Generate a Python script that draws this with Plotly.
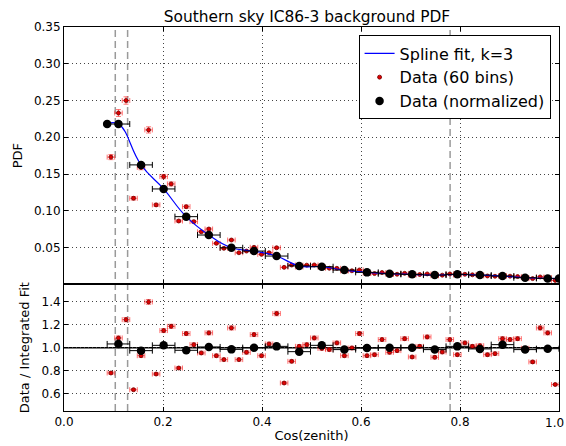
import numpy as np
import plotly.graph_objects as go

# ---- data ----
cos_lo, cos_hi, n_bins, group = 0.0872, 1.0, 60, 3

red_pdf = [0.173, 0.233, 0.250, 0.117, 0.159, 0.210, 0.108, 0.1465, 0.1365, 0.0861,
           0.1056, 0.0852, 0.0715, 0.0752, 0.0557, 0.0489, 0.0602, 0.0429, 0.0452, 0.0503,
           0.0407, 0.0429, 0.0497, 0.0230, 0.0262, 0.0235, 0.0260, 0.0263, 0.0232, 0.0218,
           0.0217, 0.0182, 0.0184, 0.0195, 0.0151, 0.0146, 0.0160, 0.0137, 0.0136, 0.0149,
           0.0124, 0.0133, 0.0141, 0.0116, 0.0124, 0.0141, 0.0126, 0.0136, 0.0129, 0.0128,
           0.0113, 0.0109, 0.0118, 0.0110, 0.0105, 0.0091, 0.0077, 0.0100, 0.0091, 0.0053]

red_ratio = [0.78, 1.084, 1.243, 0.635, 0.93, 1.397, 0.771, 1.148, 1.185, 0.823,
             1.122, 1.026, 0.954, 1.128, 0.93, 0.896, 1.171, 0.896, 0.959, 1.113,
             0.93, 1.032, 1.296, 0.693, 0.881, 1.011, 1.026, 1.084, 0.993, 0.983,
             1.041, 0.93, 0.997, 1.122, 0.93, 0.939, 1.07, 0.959, 0.974, 1.078,
             0.919, 1.011, 1.093, 0.916, 0.962, 1.07, 0.939, 1.041, 1.011, 1.017,
             0.939, 0.948, 1.078, 1.07, 1.078, 0.995, 0.876, 1.171, 1.128, 0.68]

norm_pdf = [0.218, 0.1624, 0.1297, 0.092, 0.067, 0.0497, 0.0452, 0.0384, 0.0250, 0.0239,
            0.0193, 0.0162, 0.0143, 0.0135, 0.0125, 0.0135, 0.0125, 0.0112, 0.0089, 0.0080]

norm_ratio = [1.032, 0.974, 1.02, 0.977, 1.006, 0.985, 1.0, 1.011, 0.965, 1.02,
              0.983, 0.997, 1.0, 1.0, 0.983, 1.011, 0.989, 1.026, 0.983, 0.991]

end_pdf = [0.218, 0.0078]          # spline end knots at cos_lo and cos_hi
vlines = [0.1036, 0.1285, 0.780]  # dashed markers

x_ticks = [0.0, 0.2, 0.4, 0.6, 0.8, 1.0]
y_ticks_top = [0.05, 0.10, 0.15, 0.20, 0.25, 0.30, 0.35]
y_ticks_bot = [0.6, 0.8, 1.0, 1.2, 1.4]

# ---- derived positions ----
edges = np.linspace(cos_lo, cos_hi, n_bins + 1)
centers = 0.5 * (edges[:-1] + edges[1:])
half_w = 0.5 * (edges[1] - edges[0])
g_edges = edges[::group]
g_centers = 0.5 * (g_edges[:-1] + g_edges[1:])
g_half = 0.5 * (g_edges[1] - g_edges[0])

spline_x = [cos_lo] + list(g_centers) + [cos_hi]
spline_y = [end_pdf[0]] + norm_pdf + [end_pdf[1]]

FONT = "DejaVu Sans"
red_err = dict(color="rgba(255,40,40,0.65)", thickness=1, width=2.5)
blk_err = dict(color="black", thickness=1, width=3)
red_marker = dict(color="#e00000", size=4, line=dict(color="#700000", width=0.8))

fig = go.Figure()

# top panel
fig.add_trace(go.Scatter(
    x=centers, y=red_pdf, mode="markers", name="Data (60 bins)", legendrank=2,
    marker=red_marker,
    error_x=dict(type="constant", value=half_w, **red_err),
    error_y=dict(type="percent", value=2, **red_err),
    xaxis="x", yaxis="y"))
fig.add_trace(go.Scatter(
    x=spline_x, y=spline_y, mode="lines", name="Spline fit, k=3", legendrank=1,
    line=dict(color="#0000ff", width=1.2, shape="spline", smoothing=1.3),
    xaxis="x", yaxis="y"))
fig.add_trace(go.Scatter(
    x=g_centers, y=norm_pdf, mode="markers", name="Data (normalized)", legendrank=3,
    marker=dict(color="black", size=8.5),
    error_x=dict(type="constant", value=g_half, **blk_err),
    error_y=dict(type="percent", value=1.5, **blk_err),
    xaxis="x", yaxis="y"))
fig.add_trace(go.Scatter(
    x=[spline_x[0], spline_x[-1]], y=end_pdf, mode="markers", showlegend=False,
    marker=dict(color="black", size=8.5), cliponaxis=True,
    xaxis="x", yaxis="y"))

# bottom panel
fig.add_trace(go.Scatter(
    x=centers, y=red_ratio, mode="markers", showlegend=False,
    marker=red_marker,
    error_x=dict(type="constant", value=half_w, **red_err),
    error_y=dict(type="percent", value=1.5, **red_err),
    xaxis="x2", yaxis="y2"))
fig.add_trace(go.Scatter(
    x=g_centers, y=norm_ratio, mode="markers", showlegend=False,
    marker=dict(color="black", size=8.5),
    error_x=dict(type="constant", value=g_half, **blk_err),
    xaxis="x2", yaxis="y2"))

shapes = []
for v in vlines:
    shapes.append(dict(type="line", xref="x", yref="paper", x0=v, x1=v, y0=0, y1=1,
                       line=dict(color="#9a9a9a", width=1.5, dash="7px,4px"), layer="below"))
shapes.append(dict(type="line", xref="paper", yref="y2", x0=0, x1=1, y0=1, y1=1,
                   line=dict(color="black", width=1.5), layer="below"))

axis_common = dict(showline=True, linecolor="black", linewidth=1, mirror="ticks",
                   ticks="inside", ticklen=4, tickcolor="black",
                   showgrid=True, gridcolor="#444", gridwidth=1, griddash="1px,3px",
                   zeroline=False, automargin=False,
                   tickfont=dict(family=FONT, size=12, color="black"))

# last x tick label is placed flush with the right edge so it stays fully visible
x_ticktext = ["%.1f" % v for v in x_ticks[:-1]] + [""]
annotations = [dict(text="%.1f" % x_ticks[-1], xref="paper", yref="paper",
                    x=1 + 7 / 495, y=0, xanchor="right", yanchor="top", yshift=-3,
                    showarrow=False, font=dict(family=FONT, size=12, color="black"))]

split = 0.330
fig.update_layout(
    width=566, height=446,
    margin=dict(l=64, r=7, t=27, b=35),
    paper_bgcolor="white", plot_bgcolor="white",
    font=dict(family=FONT, color="black"),
    title=dict(text="Southern sky IC86-3 background PDF", x=307 / 566, xanchor="center",
               y=1 - 17 / 446, yref="container", yanchor="middle",
               font=dict(family=FONT, size=15.4, color="black")),
    xaxis=dict(domain=[0, 1], anchor="y", range=[0, 1], tickvals=x_ticks,
               showticklabels=False, **axis_common),
    yaxis=dict(domain=[split, 1], anchor="x", range=[0, 0.35], tickvals=y_ticks_top,
               ticktext=["%.2f" % v for v in y_ticks_top],
               title=dict(text="PDF", font=dict(family=FONT, size=13), standoff=8),
               **axis_common),
    xaxis2=dict(domain=[0, 1], anchor="y2", range=[0, 1], matches="x", tickvals=x_ticks,
                ticktext=x_ticktext,
                title=dict(text="Cos(zenith)", font=dict(family=FONT, size=13), standoff=2),
                **axis_common),
    yaxis2=dict(domain=[0, split], anchor="x2", range=[0.45, 1.55], tickvals=y_ticks_bot,
                ticktext=["%.1f" % v for v in y_ticks_bot],
                title=dict(text="Data / Integrated Fit", font=dict(family=FONT, size=13), standoff=8),
                **axis_common),
    shapes=shapes,
    annotations=annotations,
    legend=dict(x=0.983, y=0.978, xanchor="right", yanchor="top",
                bgcolor="white", bordercolor="black", borderwidth=1,
                font=dict(family=FONT, size=16, color="black"), tracegroupgap=0),
    showlegend=True,
)

fig.write_html("out.html")
